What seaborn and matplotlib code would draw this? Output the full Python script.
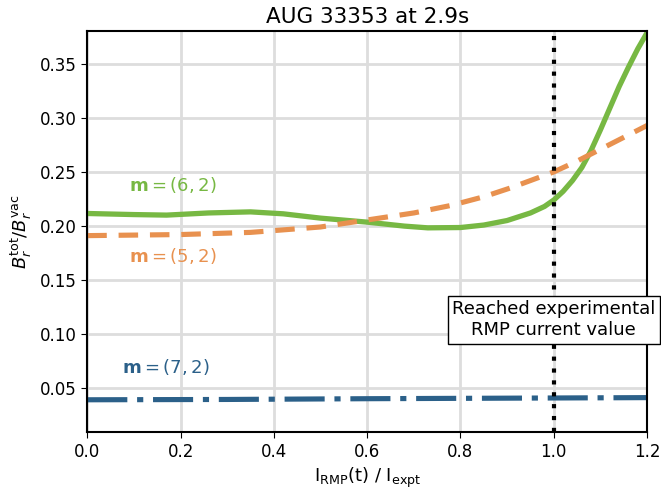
import numpy as np
import pandas as pd
import matplotlib
matplotlib.use("Agg")
import matplotlib.pyplot as plt
import seaborn as sns

x_g = [0.0, 0.1, 0.17, 0.26, 0.35, 0.42, 0.5, 0.6, 0.68, 0.73, 0.8, 0.85, 0.9, 0.95, 0.98,
       1.0, 1.02, 1.04, 1.06, 1.08, 1.1, 1.12, 1.14, 1.16, 1.18, 1.2]
m62 = [0.2115, 0.2105, 0.2100, 0.2120, 0.2130, 0.2112, 0.2072, 0.2035, 0.1998, 0.1982, 0.1985,
       0.2008, 0.2050, 0.2120, 0.2180, 0.2240, 0.2320, 0.2420, 0.2540, 0.2700, 0.2890, 0.3090,
       0.3290, 0.3470, 0.3640, 0.3790]
x_o = [0.0, 0.2, 0.35, 0.5, 0.6, 0.7, 0.78, 0.85, 0.906, 0.95, 1.0, 1.05, 1.1, 1.15, 1.2]
m52 = [0.191, 0.192, 0.194, 0.199, 0.2055, 0.212, 0.219, 0.227, 0.235, 0.242, 0.250, 0.260,
       0.271, 0.282, 0.293]
x_b = [0.0, 0.3, 0.6, 0.9, 1.2]
m72 = [0.039, 0.0393, 0.0400, 0.0405, 0.0410]

df_g = pd.DataFrame({"x": x_g, "y": m62})
df_o = pd.DataFrame({"x": x_o, "y": m52})
df_b = pd.DataFrame({"x": x_b, "y": m72})

sns.set_style("whitegrid", {"axes.edgecolor": "black", "grid.color": "#dddddd",
                            "xtick.bottom": True, "ytick.left": True,
                            "text.color": "black", "xtick.color": "black",
                            "ytick.color": "black", "axes.labelcolor": "black"})
plt.rcParams["font.family"] = ["DejaVu Sans"]

fig, ax = plt.subplots(figsize=(6.61, 4.9), dpi=100)
green = "#77b843"
orange = "#e8914f"
blue = "#2b6089"
sns.lineplot(data=df_g, x="x", y="y", ax=ax, color=green, lw=3.8)
sns.lineplot(data=df_o, x="x", y="y", ax=ax, color=orange, lw=3.7, linestyle=(0, (3.8, 2.3)))
sns.lineplot(data=df_b, x="x", y="y", ax=ax, color=blue, lw=3.7, linestyle=(0, (7.8, 1.9, 1.2, 1.9)))
ax.axvline(1.0, color="black", lw=3, linestyle=(0, (1, 1.85)))

ax.text(0.09, 0.232, r"$\mathbf{m} = (6, 2)$", color=green, fontsize=13)
ax.text(0.09, 0.167, r"$\mathbf{m} = (5, 2)$", color=orange, fontsize=13)
ax.text(0.075, 0.064, r"$\mathbf{m} = (7, 2)$", color=blue, fontsize=13)
ax.text(1.0, 0.113, "Reached experimental\nRMP current value", ha="center", va="center",
        fontsize=13, color="black",
        bbox=dict(facecolor="white", edgecolor="black", boxstyle="square,pad=0.25"),
        clip_on=False, zorder=5)

ax.set_xlim(0, 1.2)
ax.set_ylim(0.009, 0.3806)
ax.set_yticks([0.05, 0.10, 0.15, 0.20, 0.25, 0.30, 0.35])
ax.set_title("AUG 33353 at 2.9s", fontsize=15.5, color="black")
ax.set_xlabel(r"$\mathrm{I_{RMP}(t)}$ / $\mathrm{I_{expt}}$", fontsize=13)
ax.set_ylabel(r"$B_r^{\mathrm{tot}}/B_r^{\mathrm{vac}}$", fontsize=13)
ax.tick_params(labelsize=12, length=4, color="black")
for s in ax.spines.values():
    s.set_linewidth(1.5)
ax.grid(lw=2)
fig.subplots_adjust(left=0.132, right=0.979, top=0.937, bottom=0.118)
fig.savefig("out.png", dpi=100)
